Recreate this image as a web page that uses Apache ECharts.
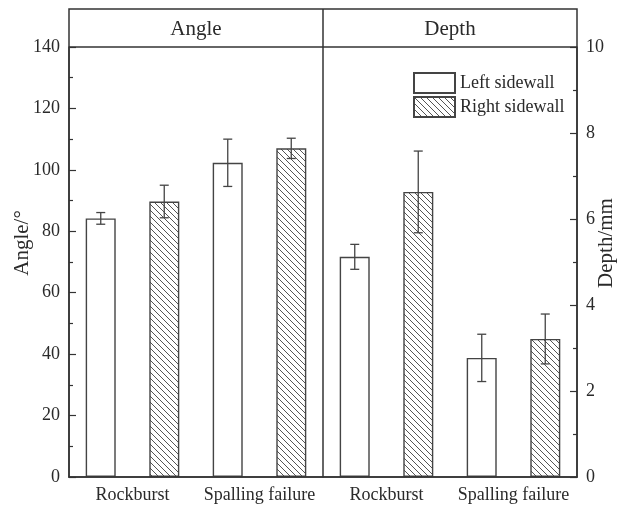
<!DOCTYPE html>
<html>
<head>
<meta charset="utf-8">
<script src="https://cdn.jsdelivr.net/npm/echarts@6/dist/echarts.min.js"></script>
<style>
  html, body { margin: 0; padding: 0; background: #fff; }
  #chart { width: 625px; height: 507px; }
</style>
</head>
<body>
<div id="chart"></div>
<script>
// Failure categories
var categories = ['Rockburst', 'Spalling failure'];

// Angle (degrees): mean and error half-width per sidewall
var angleLeft = [84.2, 102.3];
var angleLeftErr = [1.9, 7.7];
var angleRight = [89.7, 107.0];
var angleRightErr = [5.3, 3.3];

// Depth (mm): mean and error half-width per sidewall
var depthLeft = [5.12, 2.77];
var depthLeftErr = [0.29, 0.55];
var depthRight = [6.63, 3.21];
var depthRightErr = [0.95, 0.58];

// Axis ranges
var angleTicks = { min: 0, max: 140, interval: 20 };
var depthTicks = { min: 0, max: 10, interval: 2 };

var FONT = "'Liberation Serif', 'Times New Roman', serif";
var INK = '#2a2a2a';
var LINE = '#333';

// Diagonal hatch fill for the right sidewall bars
function makeHatch() {
  var s = 6;
  var c = document.createElement('canvas');
  c.width = s; c.height = s;
  var ctx = c.getContext('2d');
  ctx.fillStyle = '#fff';
  ctx.fillRect(0, 0, s, s);
  ctx.strokeStyle = '#555';
  ctx.lineWidth = 1;
  ctx.beginPath();
  ctx.moveTo(0, 0); ctx.lineTo(s, s);
  ctx.moveTo(-1, s - 1); ctx.lineTo(1, s + 1);
  ctx.moveTo(s - 1, -1); ctx.lineTo(s + 1, 1);
  ctx.stroke();
  return c;
}
var hatch = { image: makeHatch(), repeat: 'repeat' };

var plainStyle = { color: '#fff', borderColor: '#444', borderWidth: 1.4 };
var hatchStyle = { color: hatch, borderColor: '#444', borderWidth: 1.4 };

// Error bars placed over the bar of one sidewall (sign -1 left slot, +1 right slot)
function errorBars(sign) {
  return function (params, api) {
    var i = api.value(0), m = api.value(1), e = api.value(2);
    var band = api.size([1, 0])[0];
    var off = sign * band * 0.25;
    var top = api.coord([i, m + e]);
    var bot = api.coord([i, m - e]);
    var x = top[0] + off;
    var cap = 4.5;
    var st = { stroke: '#444', lineWidth: 1.3 };
    return {
      type: 'group',
      children: [
        { type: 'line', shape: { x1: x, y1: top[1], x2: x, y2: bot[1] }, style: st },
        { type: 'line', shape: { x1: x - cap, y1: top[1], x2: x + cap, y2: top[1] }, style: st },
        { type: 'line', shape: { x1: x - cap, y1: bot[1], x2: x + cap, y2: bot[1] }, style: st }
      ]
    };
  };
}
function errData(vals, errs) {
  return vals.map(function (v, i) { return [i, v, errs[i]]; });
}

function xAxisFor(idx) {
  return {
    gridIndex: idx,
    type: 'category',
    data: categories,
    axisLine: { lineStyle: { color: LINE, width: 1.5 } },
    axisTick: { show: false },
    axisLabel: { interval: 0, fontFamily: FONT, fontSize: 18, color: INK, margin: 9 }
  };
}
function yAxisFor(idx, ticks, pos) {
  return {
    gridIndex: idx,
    type: 'value',
    position: pos,
    min: ticks.min, max: ticks.max, interval: ticks.interval,
    axisLine: { show: true, lineStyle: { color: LINE, width: 1.5 } },
    axisTick: { show: true, inside: true, length: 7, lineStyle: { color: LINE, width: 1.2 } },
    minorTick: { show: true, splitNumber: 2, length: 4, lineStyle: { color: LINE, width: 1.2 } },
    splitLine: { show: false },
    axisLabel: { fontFamily: FONT, fontSize: 18, color: INK, margin: 9 }
  };
}

var barWidth = 30, barGap = '112%';

var option = {
  animation: false,
  backgroundColor: '#fff',
  grid: [
    { left: 69, top: 47, width: 254, height: 430 },
    { left: 323, top: 47, width: 254, height: 430 }
  ],
  xAxis: [xAxisFor(0), xAxisFor(1)],
  yAxis: [yAxisFor(0, angleTicks, 'left'), yAxisFor(1, depthTicks, 'right')],
  legend: {
    data: ['Left sidewall', 'Right sidewall'],
    orient: 'vertical',
    left: 413, top: 72,
    padding: 0,
    itemWidth: 41, itemHeight: 20, itemGap: 2,
    icon: 'rect',
    selectedMode: false,
    textStyle: { fontFamily: FONT, fontSize: 18, color: INK, padding: [0, 0, 0, 0] }
  },
  graphic: [
    { type: 'rect', z: 100, silent: true, shape: { x: 69, y: 9, width: 508, height: 468 },
      style: { fill: 'none', stroke: LINE, lineWidth: 1.5 } },
    { type: 'line', z: 100, silent: true, shape: { x1: 69, y1: 47, x2: 577, y2: 47 },
      style: { stroke: LINE, lineWidth: 1.5 } },
    { type: 'line', z: 100, silent: true, shape: { x1: 323, y1: 9, x2: 323, y2: 477 },
      style: { stroke: LINE, lineWidth: 1.5 } },
    { type: 'text', x: 196, y: 29, style: { text: 'Angle', font: '21px ' + FONT, fill: INK, align: 'center', verticalAlign: 'middle' } },
    { type: 'text', x: 450, y: 29, style: { text: 'Depth', font: '21px ' + FONT, fill: INK, align: 'center', verticalAlign: 'middle' } },
    { type: 'text', x: 22, y: 243, rotation: Math.PI / 2, style: { text: 'Angle/°', font: '21px ' + FONT, fill: INK, align: 'center', verticalAlign: 'middle' } },
    { type: 'text', x: 606, y: 243, rotation: Math.PI / 2, style: { text: 'Depth/mm', font: '21px ' + FONT, fill: INK, align: 'center', verticalAlign: 'middle' } }
  ],
  series: [
    { name: 'Left sidewall', type: 'bar', xAxisIndex: 0, yAxisIndex: 0, data: angleLeft,
      barWidth: barWidth, barGap: barGap, itemStyle: plainStyle },
    { name: 'Right sidewall', type: 'bar', xAxisIndex: 0, yAxisIndex: 0, data: angleRight,
      barWidth: barWidth, barGap: barGap, itemStyle: hatchStyle },
    { name: 'Left sidewall', type: 'bar', xAxisIndex: 1, yAxisIndex: 1, data: depthLeft,
      barWidth: barWidth, barGap: barGap, itemStyle: plainStyle },
    { name: 'Right sidewall', type: 'bar', xAxisIndex: 1, yAxisIndex: 1, data: depthRight,
      barWidth: barWidth, barGap: barGap, itemStyle: hatchStyle },
    { name: 'errAngleL', type: 'custom', xAxisIndex: 0, yAxisIndex: 0, z: 5,
      renderItem: errorBars(-1), encode: { x: 0, y: 1 }, data: errData(angleLeft, angleLeftErr) },
    { name: 'errAngleR', type: 'custom', xAxisIndex: 0, yAxisIndex: 0, z: 5,
      renderItem: errorBars(1), encode: { x: 0, y: 1 }, data: errData(angleRight, angleRightErr) },
    { name: 'errDepthL', type: 'custom', xAxisIndex: 1, yAxisIndex: 1, z: 5,
      renderItem: errorBars(-1), encode: { x: 0, y: 1 }, data: errData(depthLeft, depthLeftErr) },
    { name: 'errDepthR', type: 'custom', xAxisIndex: 1, yAxisIndex: 1, z: 5,
      renderItem: errorBars(1), encode: { x: 0, y: 1 }, data: errData(depthRight, depthRightErr) }
  ]
};

var chart = echarts.init(document.getElementById('chart'), null, { renderer: 'canvas' });
chart.setOption(option);
</script>
</body>
</html>
